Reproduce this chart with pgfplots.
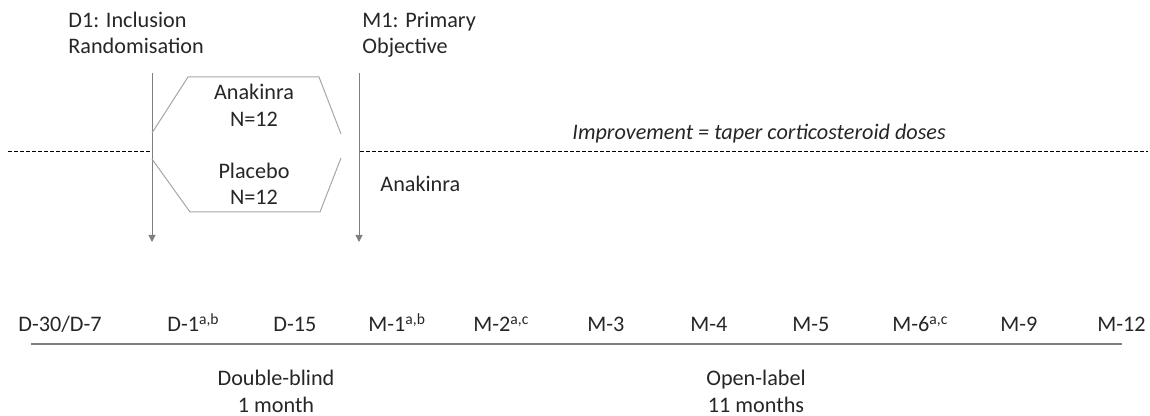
\documentclass[border=0pt]{standalone}
\usepackage{pgfplots}
\pgfplotsset{compat=1.18}
\usepackage{fontspec}
\setmainfont{Carlito}
\usetikzlibrary{arrows.meta}
\definecolor{txt}{HTML}{262626}
\definecolor{arr}{HTML}{7F7F7F}
\definecolor{hex}{HTML}{A6A6A6}
\definecolor{tl}{HTML}{7F7F7F}
\tikzset{tnode/.style={inner sep=0pt, text=txt, font=\fontsize{11.1}{13}\selectfont}}
\begin{document}
\fontsize{11.1}{13}\selectfont
\begin{tikzpicture}
\begin{axis}[
  scale only axis, width=575pt, height=208pt,
  xmin=0, xmax=1150, ymin=0, ymax=416, y dir=reverse,
  hide axis, clip=false,
]
% dashed separation line
\addplot[black, line width=0.4pt, dash pattern=on 2pt off 1pt] coordinates {(8,151) (152,151)};
\addplot[black, line width=0.4pt, dash pattern=on 2pt off 1pt] coordinates {(360,151) (1148,151)};
% vertical arrows
\addplot[arr, line width=0.5pt, -{Triangle[width=3.5pt,length=3.5pt]}] coordinates {(152,73) (152,242)};
\addplot[arr, line width=0.5pt, -{Triangle[width=3.5pt,length=3.5pt]}] coordinates {(359,73) (359,242)};
% randomisation hexagon
\addplot[hex, line width=0.5pt] coordinates {(152,133) (188,77) (319,77) (341,134)};
\addplot[hex, line width=0.5pt] coordinates {(152,159) (190,212) (320,212) (341,158)};
% timeline
\addplot[tl, line width=1pt] coordinates {(31,344) (1122,344)};

\node[tnode, anchor=base west] at (axis cs:68,28) {D1: Inclusion};
\node[tnode, anchor=base west] at (axis cs:68,54) {Randomisation};
\node[tnode, anchor=base west] at (axis cs:362,28) {M1: Primary};
\node[tnode, anchor=base west] at (axis cs:362,54) {Objective};
\node[tnode, anchor=base] at (axis cs:254,100) {Anakinra};
\node[tnode, anchor=base] at (axis cs:254,127) {N=12};
\node[tnode, anchor=base] at (axis cs:254,179) {Placebo};
\node[tnode, anchor=base] at (axis cs:254,205) {N=12};
\node[tnode, anchor=base west] at (axis cs:380,192) {Anakinra};
\node[tnode, anchor=base west] at (axis cs:572,140) {\itshape Improvement = taper corticosteroid doses};

\node[tnode, anchor=base west] at (axis cs:18,332) {D-30/D-7};
\node[tnode, anchor=base west] at (axis cs:167,332) {D-1\textsuperscript{a,b}};
\node[tnode, anchor=base west] at (axis cs:273,332) {D-15};
\node[tnode, anchor=base west] at (axis cs:368,332) {M-1\textsuperscript{a,b}};
\node[tnode, anchor=base west] at (axis cs:473,332) {M-2\textsuperscript{a,c}};
\node[tnode, anchor=base west] at (axis cs:587,332) {M-3};
\node[tnode, anchor=base west] at (axis cs:690,332) {M-4};
\node[tnode, anchor=base west] at (axis cs:792,332) {M-5};
\node[tnode, anchor=base west] at (axis cs:892,332) {M-6\textsuperscript{a,c}};
\node[tnode, anchor=base west] at (axis cs:1000,332) {M-9};
\node[tnode, anchor=base west] at (axis cs:1097,332) {M-12};

\node[tnode, anchor=base] at (axis cs:276,386) {Double-blind};
\node[tnode, anchor=base] at (axis cs:276,412) {1 month};
\node[tnode, anchor=base] at (axis cs:756,386) {Open-label};
\node[tnode, anchor=base] at (axis cs:756,412) {11 months};
\end{axis}
\pgfresetboundingbox
\useasboundingbox (current axis.south west) rectangle (current axis.north east);
\end{tikzpicture}
\end{document}
